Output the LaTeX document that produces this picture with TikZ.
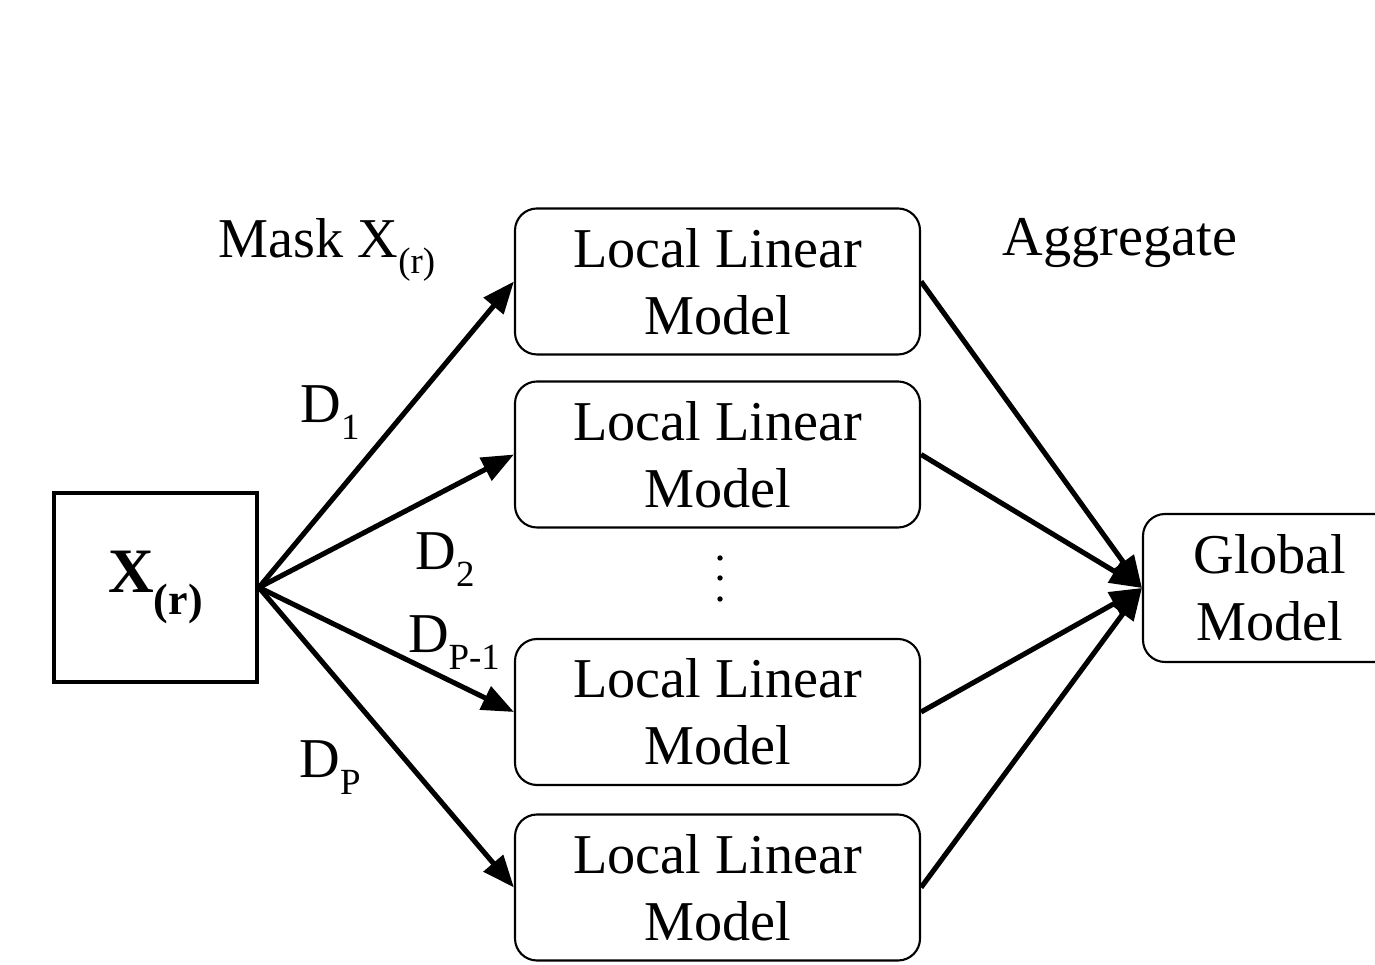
\documentclass[tikz,border=0pt]{standalone}
\usepackage{fontspec}
\setmainfont{Liberation Serif}
\usetikzlibrary{arrows.meta}

\newcommand{\lsub}[1]{\raisebox{-4.8pt}{\fontsize{10.5}{12}\selectfont #1}}

\tikzset{
  localbox/.style={draw, rounded corners=0.22cm, line width=0.6pt, minimum width=4.05cm, minimum height=1.46cm, align=center, font=\fontsize{16}{19}\selectfont},
  conn/.style={line width=1.45pt, -{Triangle[length=0.32cm, width=0.25cm]}},
  lbl/.style={font=\fontsize{16}{19}\selectfont}
}

\begin{document}
\begin{tikzpicture}
          \useasboundingbox (0, 0) rectangle (13.75, 9.65);
          \node[draw, line width=1.1pt, minimum width=2.03cm, minimum height=1.89cm, font=\fontsize{18}{20}\selectfont\bfseries] (xr) at (1.555, 3.775) {X\raisebox{-6pt}{\fontsize{12.5}{14}\selectfont (r)}};
          \node[localbox] (m1) at (7.175, 6.835) {Local Linear\\Model};
          \node[localbox] (m2) at (7.175, 5.105) {Local Linear\\Model};
          \node[localbox] (m3) at (7.175, 2.53) {Local Linear\\Model};
          \node[localbox] (m4) at (7.175, 0.775) {Local Linear\\Model};
          \node[localbox, minimum width=2.54cm, minimum height=1.48cm] (gm) at (12.7, 3.77) {Global\\Model};
          \fill (7.2, 4.07) circle (0.027) (7.2, 3.87) circle (0.027) (7.2, 3.66) circle (0.027);
          \node[lbl] (mask) at (3.27, 7.15) {Mask X\lsub{(r)}};
          \node[lbl] (agg) at (11.2, 7.22) {Aggregate};
          \node[lbl] (d1) at (3.3, 5.52) {D\lsub{1}};
          \node[lbl] (d2) at (4.45, 4.05) {D\lsub{2}};
          \node[lbl] (dp1) at (4.54, 3.22) {D\lsub{P-1}};
          \node[lbl] (dp) at (3.3, 1.97) {D\lsub{P}};
          % masked copies
          \draw[conn] (xr.east) -- (m1.west);
          \draw[conn] (xr.east) -- (m2.west);
          \draw[conn] (xr.east) -- (m3.west);
          \draw[conn] (xr.east) -- (m4.west);
          % aggregation
          \draw[conn] (m1.east) -- (gm.west);
          \draw[conn] (m2.east) -- (gm.west);
          \draw[conn] (m3.east) -- (gm.west);
          \draw[conn] (m4.east) -- (gm.west);
        \end{tikzpicture}
\end{document}
